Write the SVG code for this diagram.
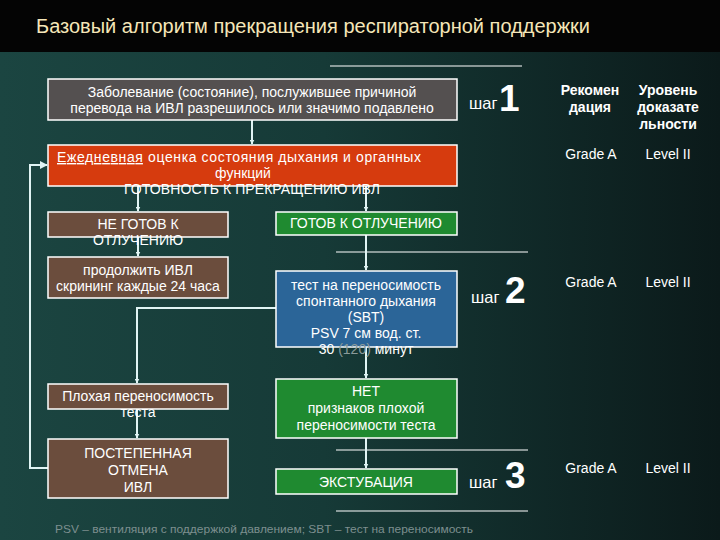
<svg xmlns="http://www.w3.org/2000/svg" width="720" height="540" viewBox="0 0 720 540">
<defs>
<linearGradient id="bg" x1="0" y1="0" x2="1" y2="0">
<stop offset="0" stop-color="#1b4541"/>
<stop offset="0.45" stop-color="#163a37"/>
<stop offset="1" stop-color="#0b1a1a"/>
</linearGradient>
<marker id="ah" viewBox="0 0 10 10" refX="9" refY="5" markerWidth="5" markerHeight="5" orient="auto" markerUnits="userSpaceOnUse">
<path d="M0,0 L10,5 L0,10 z" fill="#e0f4f4"/>
</marker>
<marker id="ah2" viewBox="0 0 10 10" refX="9" refY="5" markerWidth="8" markerHeight="8" orient="auto" markerUnits="userSpaceOnUse">
<path d="M0,0 L10,5 L0,10 z" fill="#e0f4f4"/>
</marker>
</defs>
<style>
.t{font-family:"Liberation Sans",Arial,sans-serif;fill:#ffffff;font-size:14px;text-anchor:middle}
.box{stroke:#ffffff;stroke-width:1.5}
.grey{fill:#545050}
.red{fill:#d63b0e}
.brown{fill:#6b4d3d}
.green{fill:#1f8a30}
.blue{fill:#2b6598}
.c{fill:none;stroke:#e0f4f4;stroke-width:2}
.sep{stroke:#ffffff;stroke-width:1.2}
.step{font-family:"Liberation Sans",Arial,sans-serif;fill:#ffffff;font-size:16.5px}
.num{font-family:"Liberation Sans",Arial,sans-serif;fill:#ffffff;font-size:37px;font-weight:bold}
.hd{font-family:"Liberation Sans",Arial,sans-serif;fill:#ffffff;font-size:14px;font-weight:bold;text-anchor:middle}
.gr{font-family:"Liberation Sans",Arial,sans-serif;fill:#ffffff;font-size:14px;text-anchor:middle}
</style>
<rect x="0" y="0" width="720" height="540" fill="url(#bg)"/>
<rect x="0" y="0" width="720" height="52" fill="#040404"/>
<text x="36" y="33" font-family="Liberation Sans,Arial,sans-serif" font-size="20" fill="#f5e6b8" textLength="554" lengthAdjust="spacingAndGlyphs">Базовый алгоритм прекращения респираторной поддержки</text>

<g id="separators">
<line class="sep" x1="330" y1="66" x2="522" y2="66"/>
<line class="sep" x1="336" y1="252" x2="528" y2="252"/>
<line class="sep" x1="336" y1="450" x2="528" y2="450"/>
<line class="sep" x1="336" y1="511" x2="528" y2="511"/>
</g>

<g id="connectors">
<line class="c" x1="252" y1="120" x2="252" y2="144" marker-end="url(#ah)"/>
<line class="c" x1="138" y1="186" x2="138" y2="211" marker-end="url(#ah)"/>
<line class="c" x1="366" y1="186" x2="366" y2="211" marker-end="url(#ah)"/>
<line class="c" x1="138" y1="237" x2="138" y2="256" marker-end="url(#ah)"/>
<line class="c" x1="366" y1="235" x2="366" y2="270" marker-end="url(#ah)"/>
<polyline class="c" points="276,308 137,308 137,383" marker-end="url(#ah)"/>
<line class="c" x1="366" y1="347" x2="366" y2="378" marker-end="url(#ah)"/>
<line class="c" x1="137" y1="409" x2="137" y2="438" marker-end="url(#ah)"/>
<line class="c" x1="366" y1="438" x2="366" y2="468" marker-end="url(#ah)"/>
<polyline class="c" points="48,468 30,468 30,165 47,165" marker-end="url(#ah2)"/>
</g>

<g id="n-disease">
<rect class="box grey" x="48" y="79" width="409" height="41"/>
<text class="t" x="252" y="97">Заболевание (состояние), послужившее причиной</text>
<text class="t" x="252" y="113">перевода на ИВЛ разрешилось или значимо подавлено</text>
</g>

<g id="n-daily">
<rect class="box red" x="48" y="145" width="409" height="41"/>
<text class="t" x="239" y="162" textLength="364" lengthAdjust="spacing"><tspan text-decoration="underline">Ежедневная</tspan> оценка состояния дыхания и органных</text>
<text class="t" x="243" y="178">функций</text>
<text class="t" x="252" y="194" textLength="256" lengthAdjust="spacing">ГОТОВНОСТЬ К ПРЕКРАЩЕНИЮ ИВЛ</text>
</g>

<g id="n-notready">
<rect class="box brown" x="48" y="212" width="180" height="25"/>
<text class="t" x="138" y="229">НЕ ГОТОВ К</text>
<text class="t" x="138" y="245">ОТЛУЧЕНИЮ</text>
</g>

<g id="n-continue">
<rect class="box brown" x="48" y="257" width="180" height="41"/>
<text class="t" x="138" y="275">продолжить ИВЛ</text>
<text class="t" x="138" y="291">скрининг каждые 24 часа</text>
</g>

<g id="n-ready">
<rect class="box green" x="276" y="212" width="181" height="23"/>
<text class="t" x="366" y="228">ГОТОВ К ОТЛУЧЕНИЮ</text>
</g>

<g id="n-sbt">
<rect class="box blue" x="276" y="271" width="181" height="76"/>
<text class="t" x="366" y="290">тест на переносимость</text>
<text class="t" x="366" y="306">спонтанного дыхания</text>
<text class="t" x="366" y="322">(SBT)</text>
<text class="t" x="366" y="338">PSV 7 см вод. ст.</text>
<text class="t" x="366" y="354">30 <tspan fill="#8a9a9a">(120)</tspan> минут</text>
</g>

<g id="n-poor">
<rect class="box brown" x="48" y="384" width="180" height="25"/>
<text class="t" x="138" y="401">Плохая переносимость</text>
<text class="t" x="138" y="417">теста</text>
</g>

<g id="n-gradual">
<rect class="box brown" x="48" y="439" width="180" height="59"/>
<text class="t" x="138" y="458">ПОСТЕПЕННАЯ</text>
<text class="t" x="138" y="475">ОТМЕНА</text>
<text class="t" x="138" y="492">ИВЛ</text>
</g>

<g id="n-nosigns">
<rect class="box green" x="276" y="379" width="181" height="59"/>
<text class="t" x="366" y="396">НЕТ</text>
<text class="t" x="366" y="413">признаков плохой</text>
<text class="t" x="366" y="430">переносимости теста</text>
</g>

<g id="n-extub">
<rect class="box green" x="276" y="469" width="181" height="25"/>
<text class="t" x="366" y="487">ЭКСТУБАЦИЯ</text>
</g>

<g id="steps">
<text class="step" x="469" y="109">шаг</text>
<text class="num" x="499" y="111">1</text>
<text class="step" x="471" y="303">шаг</text>
<text class="num" x="505" y="303">2</text>
<text class="step" x="469" y="488">шаг</text>
<text class="num" x="505" y="488">3</text>
</g>

<g id="table">
<text class="hd" x="590" y="95">Рекомен</text>
<text class="hd" x="590" y="112">дация</text>
<text class="hd" x="668" y="95">Уровень</text>
<text class="hd" x="668" y="112">доказате</text>
<text class="hd" x="668" y="129">льности</text>
<text class="gr" x="591" y="159">Grade A</text>
<text class="gr" x="668" y="159">Level II</text>
<text class="gr" x="591" y="287">Grade A</text>
<text class="gr" x="668" y="287">Level II</text>
<text class="gr" x="591" y="473">Grade A</text>
<text class="gr" x="668" y="473">Level II</text>
</g>

<text x="55" y="533" font-family="Liberation Sans,Arial,sans-serif" font-size="11.5" fill="#7d8f8f" textLength="418" lengthAdjust="spacingAndGlyphs">PSV – вентиляция с поддержкой давлением; SBT – тест на переносимость</text>
</svg>
